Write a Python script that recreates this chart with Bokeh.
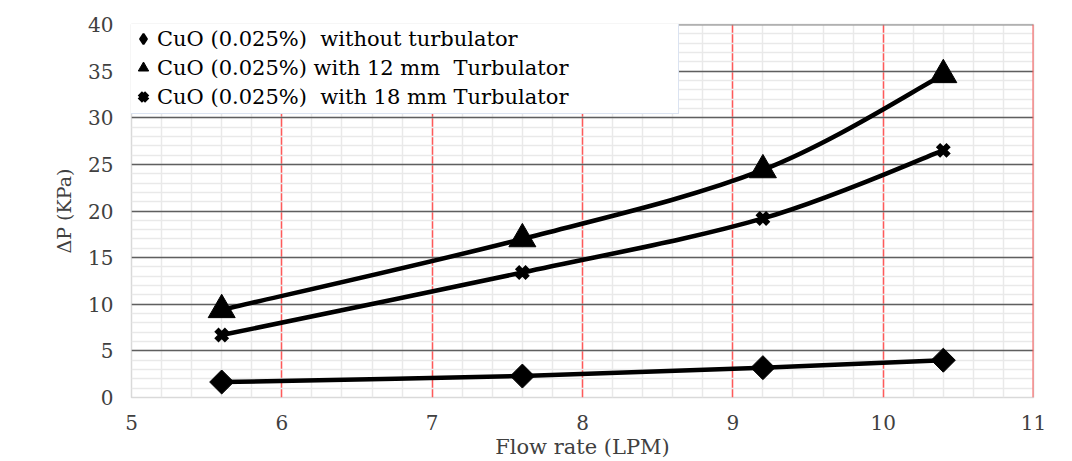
import numpy as np
from bokeh.plotting import figure
from bokeh.models import FixedTicker, Range1d, Legend, LegendItem, Span
from bokeh.embed import file_html
from bokeh.resources import INLINE

# ---- data ----
flow_rate = [5.6, 7.6, 9.2, 10.4]
dp_without = [1.66, 2.3, 3.2, 4.0]
dp_12mm = [9.4, 17.0, 24.4, 34.6]
dp_18mm = [6.7, 13.4, 19.2, 26.5]
series_labels = [
    "CuO (0.025%)  without turbulator",
    "CuO (0.025%) with 12 mm  Turbulator",
    "CuO (0.025%)  with 18 mm Turbulator",
]
x_ticks = [5, 6, 7, 8, 9, 10, 11]
y_ticks = [0, 5, 10, 15, 20, 25, 30, 35, 40]

FONT = "DejaVu Serif"


def smooth_segments(xs, ys):
    """Bezier control points for a smoothed line through the data points."""
    x = np.asarray(xs, float)
    y = np.asarray(ys, float)
    n = len(x)
    xp = np.concatenate([[x[0]], x, [x[-1]]])
    yp = np.concatenate([[y[0]], y, [y[-1]]])
    cx0 = x[:-1] + (xp[2:n + 1] - xp[0:n - 1]) / 6.0
    cy0 = y[:-1] + (yp[2:n + 1] - yp[0:n - 1]) / 6.0
    cx1 = x[1:] - (xp[3:n + 2] - xp[1:n]) / 6.0
    cy1 = y[1:] - (yp[3:n + 2] - yp[1:n]) / 6.0
    return dict(x0=x[:-1], y0=y[:-1], x1=x[1:], y1=y[1:],
                cx0=cx0, cy0=cy0, cx1=cx1, cy1=cy1)


FRAME_H = 374
p = figure(width=1064, height=461, output_backend="svg", toolbar_location=None,
           x_range=Range1d(5, 11), y_range=Range1d(0, 40),
           min_border_left=131, min_border_right=31, min_border_top=24,
           min_border_bottom=63)
p.background_fill_color = "white"
p.border_fill_color = "white"
p.outline_line_color = "#d9d9d9"
p.outline_line_width = 1.5

# grids
p.xgrid.ticker = FixedTicker(ticks=x_ticks[1:], minor_ticks=list(np.round(np.arange(5, 11.001, 0.2), 2)))
p.xgrid.grid_line_color = "#ff5a5a"
p.xgrid.grid_line_width = 1.5
p.xgrid.minor_grid_line_color = "#e9e9e9"
p.xgrid.minor_grid_line_width = 1.5
p.ygrid.ticker = FixedTicker(ticks=y_ticks[1:], minor_ticks=list(range(0, 41)))
p.ygrid.grid_line_color = "#5f5f5f"
p.ygrid.grid_line_width = 1.5
p.ygrid.minor_grid_line_color = "#e9e9e9"
p.ygrid.minor_grid_line_width = 1.5
# frame edges that carry major grid lines (top: 40, right: 11)
p.add_layout(Span(location=y_ticks[-1], dimension="width", line_color="#8a8a8a", line_width=2))
p.add_layout(Span(location=x_ticks[-1], dimension="height", line_color="#ff5a5a", line_width=2))

# axes
p.xaxis.ticker = FixedTicker(ticks=x_ticks)
p.yaxis.ticker = FixedTicker(ticks=y_ticks)
for ax in (p.xaxis[0], p.yaxis[0]):
    ax.axis_line_color = None
    ax.major_tick_line_color = None
    ax.minor_tick_line_color = None
    ax.major_label_text_font = FONT
    ax.major_label_text_font_size = "20px"
    ax.major_label_text_color = "#404040"
    ax.axis_label_text_font = FONT
    ax.axis_label_text_font_style = "normal"
    ax.axis_label_text_color = "#404040"
p.xaxis.major_label_standoff = 11
p.yaxis.major_label_standoff = 12
p.xaxis.axis_label = "Flow rate (LPM)"
p.yaxis.axis_label = "ΔP (KPa)"
p.xaxis.axis_label_text_font_size = "21px"
p.yaxis.axis_label_text_font_size = "19px"
p.xaxis.axis_label_standoff = 2
p.yaxis.axis_label_standoff = 10

# series
items = []
specs = [
    (dp_without, dict(marker="square", size=17, angle=np.pi / 4, line_width=1), "diamond"),
    (dp_12mm, dict(marker="triangle", size=27, line_width=1), None),
    (dp_18mm, dict(marker="x", size=15, line_width=6), None),
]
for (vals, mk, legend_marker), label in zip(specs, series_labels):
    seg = smooth_segments(flow_rate, vals)
    p.bezier(x0=seg["x0"], y0=seg["y0"], x1=seg["x1"], y1=seg["y1"],
             cx0=seg["cx0"], cy0=seg["cy0"], cx1=seg["cx1"], cy1=seg["cy1"],
             line_color="black", line_width=4.5)
    r = p.scatter(flow_rate, vals, fill_color="black", line_color="black", **mk)
    if legend_marker:
        # zero-size proxy so the legend key shows a diamond shape
        r = p.scatter(flow_rate, vals, marker=legend_marker, size=0,
                      fill_color="black", line_color="black", line_width=2)
    items.append(LegendItem(label=label, renderers=[r]))

ROW = 29
PAD = 2
LEG_H = 3 * ROW + 2 * PAD
legend = Legend(items=items, location=(-4, FRAME_H - LEG_H), orientation="vertical",
                label_text_font=FONT, label_text_font_size="21px",
                label_text_color="black",
                glyph_width=26, glyph_height=ROW, label_height=ROW,
                spacing=0, padding=PAD, margin=0, label_standoff=1,
                label_width=519,
                border_line_color="#b8c8e4", border_line_width=1.5,
                background_fill_color="white", background_fill_alpha=1)
p.add_layout(legend, "center")

open("out.html", "w").write(file_html(p, INLINE))
